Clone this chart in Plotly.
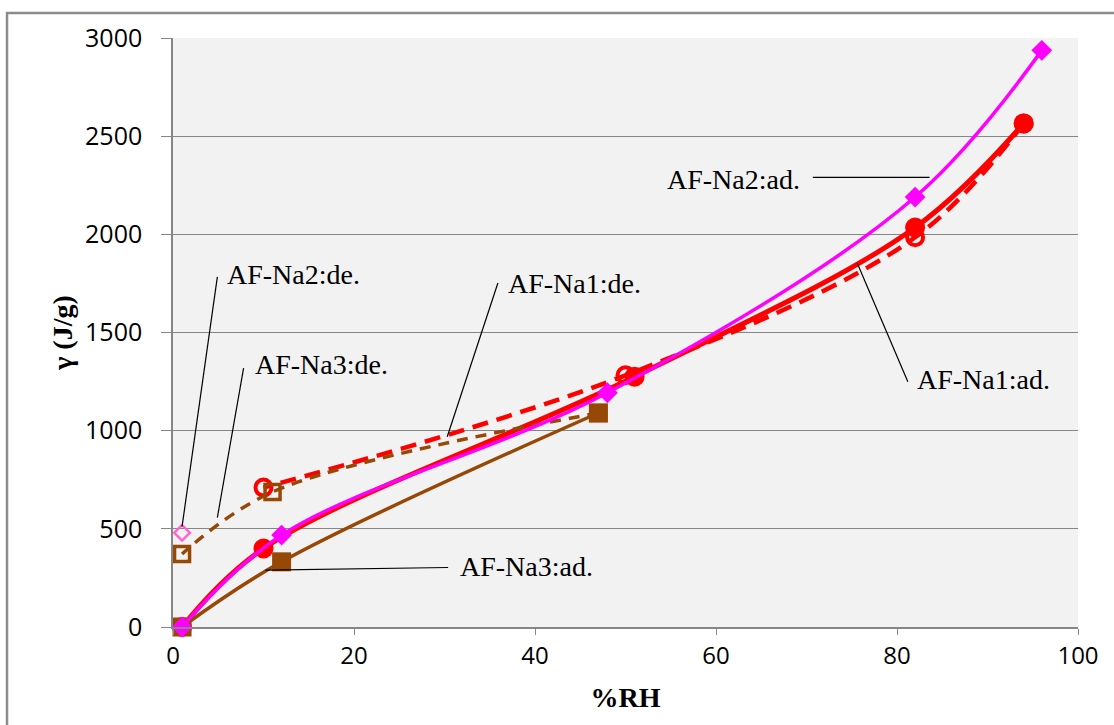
import plotly.graph_objects as go

# ---- data ----
na1_ad_x = [1, 10, 51, 82, 94]
na1_ad_y = [0, 400, 1275, 2035, 2565]
na1_de_x = [94, 82, 50, 10]
na1_de_y = [2565, 1985, 1282, 710]
na2_ad_x = [1, 12, 48, 82, 96]
na2_ad_y = [0, 468, 1193, 2190, 2937]
na2_de_x = [1]
na2_de_y = [480]
na3_ad_x = [1, 12, 47]
na3_ad_y = [0, 332, 1090]
na3_de_x = [47, 11, 1]
na3_de_y = [1090, 688, 372]

x_ticks = [0, 20, 40, 60, 80, 100]
y_ticks = [0, 500, 1000, 1500, 2000, 2500, 3000]

RED = "#ff0000"
MAG = "#ff00ff"
BROWN = "#974806"
PINK = "#ff66cc"

fig = go.Figure()
fig.add_trace(go.Scatter(x=na1_ad_x, y=na1_ad_y, name="AF-Na1:ad.", mode="lines+markers", cliponaxis=False,
                         line=dict(color=RED, width=5, shape="spline", smoothing=1),
                         marker=dict(symbol="circle", size=20, color=RED)))
fig.add_trace(go.Scatter(x=na1_de_x, y=na1_de_y, name="AF-Na1:de.", mode="lines+markers", cliponaxis=False,
                         line=dict(color=RED, width=4.5, dash="16px,9px", shape="spline", smoothing=1),
                         marker=dict(symbol="circle-open", size=16, color=RED, line=dict(width=4, color=RED))))
fig.add_trace(go.Scatter(x=na3_ad_x, y=na3_ad_y, name="AF-Na3:ad.", mode="lines+markers", cliponaxis=False,
                         line=dict(color=BROWN, width=3.5, shape="spline", smoothing=1),
                         marker=dict(symbol="square", size=19, color=BROWN)))
fig.add_trace(go.Scatter(x=na3_de_x, y=na3_de_y, name="AF-Na3:de.", mode="lines+markers", cliponaxis=False,
                         line=dict(color=BROWN, width=3.5, dash="11px,8px", shape="spline", smoothing=1),
                         marker=dict(symbol="square-open", size=15, color=BROWN, line=dict(width=3.5, color=BROWN))))
fig.add_trace(go.Scatter(x=na2_ad_x, y=na2_ad_y, name="AF-Na2:ad.", mode="lines+markers", cliponaxis=False,
                         line=dict(color=MAG, width=3.5, shape="spline", smoothing=1),
                         marker=dict(symbol="diamond", size=16, color=MAG)))
fig.add_trace(go.Scatter(x=na2_de_x, y=na2_de_y, name="AF-Na2:de.", mode="markers", cliponaxis=False,
                         marker=dict(symbol="diamond-open", size=12, color=PINK, line=dict(width=2.5, color=PINK))))

# ---- labels with leader lines ----
labels = [
    # text, text x, text y, anchor, leader (x0, y0, x1, y1)
    ("AF-Na2:ad.", 69.5, 2280, "right", (70.7, 2290, 83.6, 2290)),
    ("AF-Na1:ad.", 82.0, 1260, "left", (75.6, 1854, 81.2, 1249)),
    ("AF-Na1:de.", 36.8, 1752, "left", (35.9, 1752, 30.3, 969)),
    ("AF-Na2:de.", 5.7, 1793, "left", (4.9, 1783, 1.0, 511)),
    ("AF-Na3:de.", 8.8, 1335, "left", (7.8, 1319, 4.9, 557)),
    ("AF-Na3:ad.", 31.5, 308, "left", (10.2, 290, 30.4, 303)),
]
for txt, tx, ty, anc, (lx0, ly0, lx1, ly1) in labels:
    fig.add_shape(type="line", xref="x", yref="y", x0=lx0, y0=ly0, x1=lx1, y1=ly1,
                  line=dict(color="#000000", width=1.2), layer="above")
    fig.add_annotation(x=tx, y=ty, xref="x", yref="y", text=txt, showarrow=False,
                       xanchor=anc, yanchor="middle",
                       font=dict(family="Liberation Serif", size=28, color="#000000"))

# outer chart border
fig.add_shape(type="rect", xref="paper", yref="paper", x0=-0.1834, y0=-0.5, x1=1.5, y1=1.0424,
              line=dict(color="#8c8c8c", width=2.5), fillcolor="rgba(0,0,0,0)", layer="below")

fig.update_layout(
    width=1114, height=725,
    margin=dict(l=173, r=36, t=38, b=97.5),
    paper_bgcolor="#ffffff", plot_bgcolor="#f2f2f2",
    showlegend=False,
    font=dict(family="Open Sans", color="#000000"),
)
fig.update_xaxes(range=[0, 100], tickvals=x_ticks, ticktext=[str(v) for v in x_ticks],
                 showgrid=False, zeroline=False, showline=True, linecolor="#868686", linewidth=1.5,
                 ticks="outside", ticklen=6, tickcolor="#868686", tickfont=dict(size=24, family="Open Sans"),
                 title=dict(text="<b>%RH</b>", font=dict(family="Liberation Serif", size=28), standoff=18))
fig.update_yaxes(range=[0, 3000], tickvals=y_ticks, ticktext=[str(v) for v in y_ticks],
                 showgrid=True, gridcolor="#868686", gridwidth=1.2, zeroline=False,
                 showline=True, linecolor="#868686", linewidth=1.5,
                 ticks="outside", ticklen=10, tickcolor="#868686", tickfont=dict(size=25, family="Open Sans"),
                 ticklabelstandoff=14,
                 title=dict(text="<b>γ (J/g)</b>", font=dict(family="Liberation Serif", size=28), standoff=4))

fig.write_html("out.html")
